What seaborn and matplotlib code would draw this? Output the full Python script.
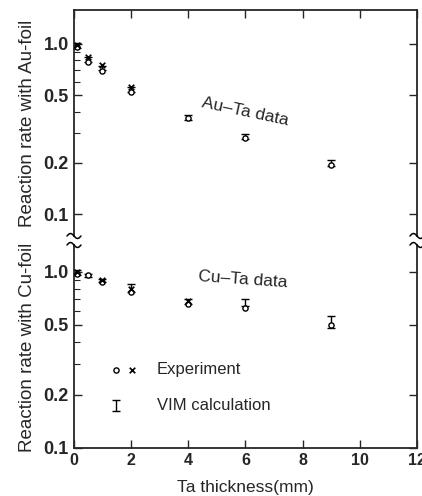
import numpy as np
import pandas as pd
import matplotlib
matplotlib.use("Agg")
import matplotlib.pyplot as plt
import seaborn as sns
from matplotlib.lines import Line2D
from matplotlib.ticker import FixedLocator, NullFormatter, FixedFormatter

# Au-Ta data
au_x = [0.1, 0.5, 1, 2, 4, 6, 9]
au_circle = [0.96, 0.78, 0.69, 0.52, 0.365, 0.28, 0.195]
au_cross_x = [0.1, 0.5, 1, 2]
au_cross = [0.99, 0.84, 0.75, 0.56]
au_vim = [0.98, 0.81, 0.72, 0.54, 0.37, 0.285, 0.2]
au_vim_err = [0.03, 0.03, 0.02, 0.02, 0.012, 0.01, 0.008]

# Cu-Ta data
cu_x = [0.1, 0.5, 1, 2, 4, 6, 9]
cu_circle = [0.97, 0.96, 0.88, 0.77, 0.66, 0.62, 0.50]
cu_cross_x = [0.1, 1, 2, 4]
cu_cross = [1.0, 0.90, 0.80, 0.68]
cu_vim = [0.99, 0.95, 0.89, 0.81, 0.68, 0.67, 0.52]
cu_vim_err = [0.03, 0.02, 0.02, 0.04, 0.02, 0.03, 0.04]

sns.set_style("ticks")
plt.rcParams['font.family'] = ['Liberation Sans', 'DejaVu Sans']

fig = plt.figure(figsize=(4.22, 4.96), dpi=100)
ax1 = fig.add_axes([0.175, 0.524, 0.813, 0.456])
ax2 = fig.add_axes([0.175, 0.097, 0.813, 0.409])


def draw(ax, x, circ, cx, cross, vim, err):
    ax.errorbar(x, vim, yerr=err, fmt='none', ecolor='black', elinewidth=1,
                capsize=3, capthick=1)
    sns.scatterplot(x=x, y=circ, ax=ax, marker='o', s=14, facecolor='white',
                    edgecolor='black', linewidth=1, zorder=3)
    sns.scatterplot(x=cx, y=cross, ax=ax, marker='x', s=16, color='black',
                    linewidth=1.2, zorder=3)


draw(ax1, au_x, au_circle, au_cross_x, au_cross, au_vim, au_vim_err)
draw(ax2, cu_x, cu_circle, cu_cross_x, cu_cross, cu_vim, cu_vim_err)

yticks = [0.1, 0.2, 0.5, 1.0]
minor = [0.3, 0.4, 0.6, 0.7, 0.8, 0.9]
for ax, lo, hi in [(ax1, 0.0742, 1.585), (ax2, 0.1, 1.42)]:
    ax.set_yscale('log')
    ax.set_ylim(lo, hi)
    ax.set_xlim(0, 12)
    ax.yaxis.set_major_locator(FixedLocator(yticks))
    ax.yaxis.set_major_formatter(FixedFormatter(['0.1', '0.2', '0.5', '1.0']))
    ax.yaxis.set_minor_locator(FixedLocator(minor))
    ax.yaxis.set_minor_formatter(NullFormatter())
    ax.set_xticks(range(0, 13, 2))
    ax.tick_params(axis='both', which='major', direction='in', length=6,
                   width=1, right=True, top=True)
    ax.tick_params(axis='y', labelsize=13)
    ax.tick_params(axis='x', labelsize=11.5)
    ax.tick_params(axis='y', which='minor', direction='in', length=4,
                   width=0.8, right=False)
    for lab in ax.get_yticklabels() + ax.get_xticklabels():
        lab.set_fontweight('bold')
    for sp in ax.spines.values():
        sp.set_linewidth(1.3)
        sp.set_visible(True)

ax1.spines['bottom'].set_visible(False)
ax1.tick_params(axis='x', labelbottom=False, bottom=False)
ax2.spines['top'].set_visible(False)
ax2.tick_params(axis='x', top=False)

ax1.text(6.0, 0.40, 'Au–Ta data', rotation=-12, ha='center', va='center',
         fontsize=12.5)
ax2.text(5.9, 0.90, 'Cu–Ta data', rotation=-4, ha='center', va='center',
         fontsize=12.5)

# legend drawn inside the lower panel
ax2.scatter([1.47], [0.277], marker='o', s=14, facecolor='white',
            edgecolor='black', linewidth=1)
ax2.scatter([2.03], [0.277], marker='x', s=16, color='black', linewidth=1.2)
ax2.errorbar([1.47], [0.175], yerr=[0.012], fmt='none', ecolor='black',
             elinewidth=1, capsize=3, capthick=1)
ax2.text(2.9, 0.277, 'Experiment', va='center', fontsize=12)
ax2.text(2.9, 0.175, 'VIM calculation', va='center', fontsize=12)

ax2.set_xlabel('Ta thickness(mm)', fontsize=12.5, labelpad=9)
fig.text(0.066, 0.752, 'Reaction rate with Au-foil', rotation=90,
         ha='center', va='center', fontsize=13.5)
fig.text(0.066, 0.30, 'Reaction rate with Cu-foil', rotation=90,
         ha='center', va='center', fontsize=13.5)

# axis break curls at the ends of the split spines
W, H = fig.get_size_inches() * fig.dpi
t = np.linspace(-1, 1, 20)
for xpix in [74, 417]:
    for ypix in [236, 245]:
        xs = (xpix + 7 * t) / W
        ys = 1 - (ypix + 2.5 * np.sin(np.pi * t)) / H
        fig.add_artist(Line2D(xs, ys, color='black', lw=1.1))

fig.savefig('out.png', dpi=100)
